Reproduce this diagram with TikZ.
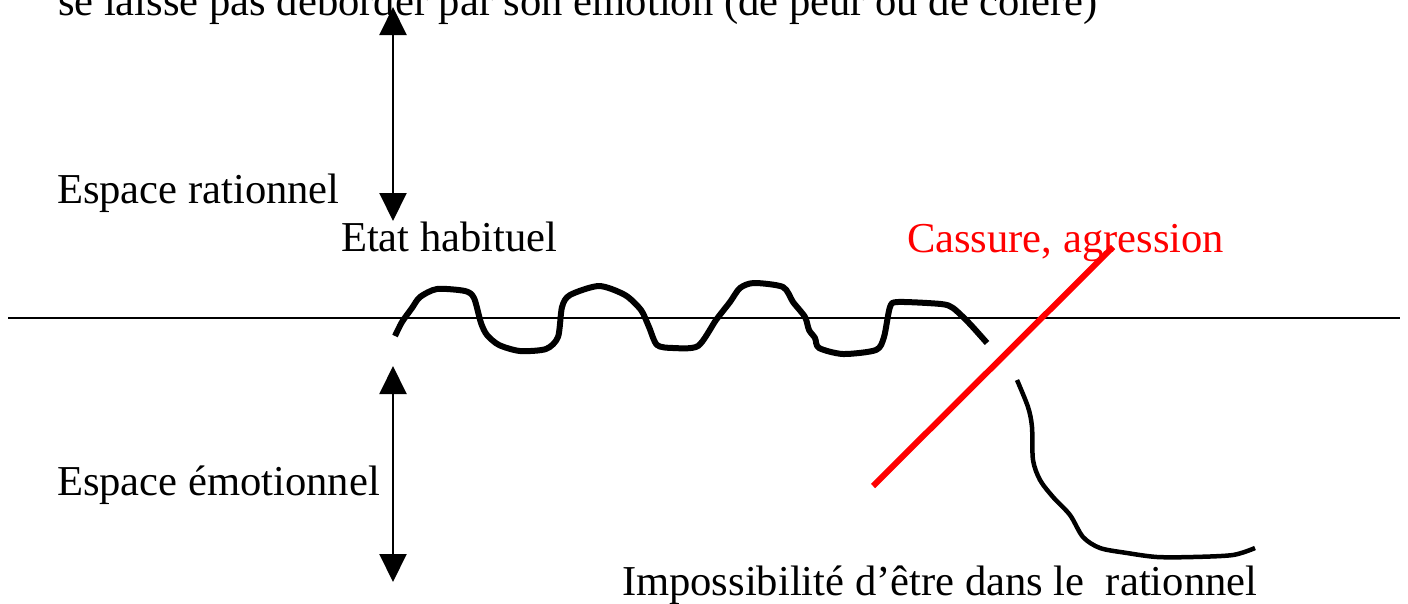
\documentclass[tikz,border=0pt]{standalone}
\usepackage{fontspec}
\setmainfont{Liberation Serif}
\usetikzlibrary{arrows.meta}
\definecolor{cassred}{RGB}{255,0,0}
\tikzset{
  lbl/.style={anchor=base west, inner sep=0pt, outer sep=0pt, font=\fontsize{42.6}{50}\selectfont},
  varrow/.style={line width=2pt, {Triangle[length=28pt,width=27pt]}-{Triangle[length=28pt,width=27pt]}},
  axisline/.style={line width=2pt},
  wave/.style={line width=6pt, line join=round},
  drop/.style={line width=4.5pt, line join=round},
  breakline/.style={line width=6pt, draw=cassred}
}
\begin{document}
\begin{tikzpicture}[x=1pt,y=-1pt]
\clip (0,0) rectangle (1408,603);
\fill[white] (0,0) rectangle (1408,603);

% texts
\node[lbl] (top) at (58,15) {se laisse pas déborder par son émotion (de peur ou de colère)};
\node[lbl] (rat) at (57,203) {Espace rationnel};
\node[lbl] (etat) at (341,251) {Etat habituel};
\node[lbl, text=cassred] (cass) at (907,252) {Cassure, agression};
\node[lbl] (emo) at (57,495) {Espace émotionnel};
\node[lbl] (imp) at (622,595) {Impossibilité d’être dans le\ \ rationnel};

% coordinates
\coordinate (a1t) at (393,7);
\coordinate (a1b) at (393,221);
\coordinate (a2t) at (393,366);
\coordinate (a2b) at (393,582);
\coordinate (hl) at (8,318);
\coordinate (hr) at (1400,318);
\coordinate (r1) at (873,486);
\coordinate (r2) at (1113,247);

% arrows
\draw[varrow] (a1t) -- (a1b);
\draw[varrow] (a2t) -- (a2b);

% horizontal line
\draw[axisline] (hl) -- (hr);

% wave
\draw[wave] plot[smooth, tension=0.45] coordinates {
(395,336) (402,322) (412,308) (420,297) (437,289) (465,291) (474,298)
(481,323) (487,335) (499,345) (520,351) (546,349) (558,337) (562,307)
(570,295) (599,286) (625,295) (641,310) (649,327) (657,345) (673,348)
(698,346) (716,320) (730,302) (740,288) (754,283) (783,287) (793,302)
(805,317) (809,330) (815,338) (819,348) (843,354) (876,350) (884,337)
(890,307) (898,302) (941,304) (953,308) (969,323) (987,343)};

% drop curve
\draw[drop] plot[smooth, tension=0.5] coordinates {
(1017,380) (1028,407) (1032,427) (1033,460) (1040,480) (1053,497)
(1070,515) (1083,537) (1100,548) (1127,553) (1157,557) (1193,557)
(1233,555) (1255,548)};

% red break
\draw[breakline] (r1) -- (r2);
\end{tikzpicture}
\end{document}
